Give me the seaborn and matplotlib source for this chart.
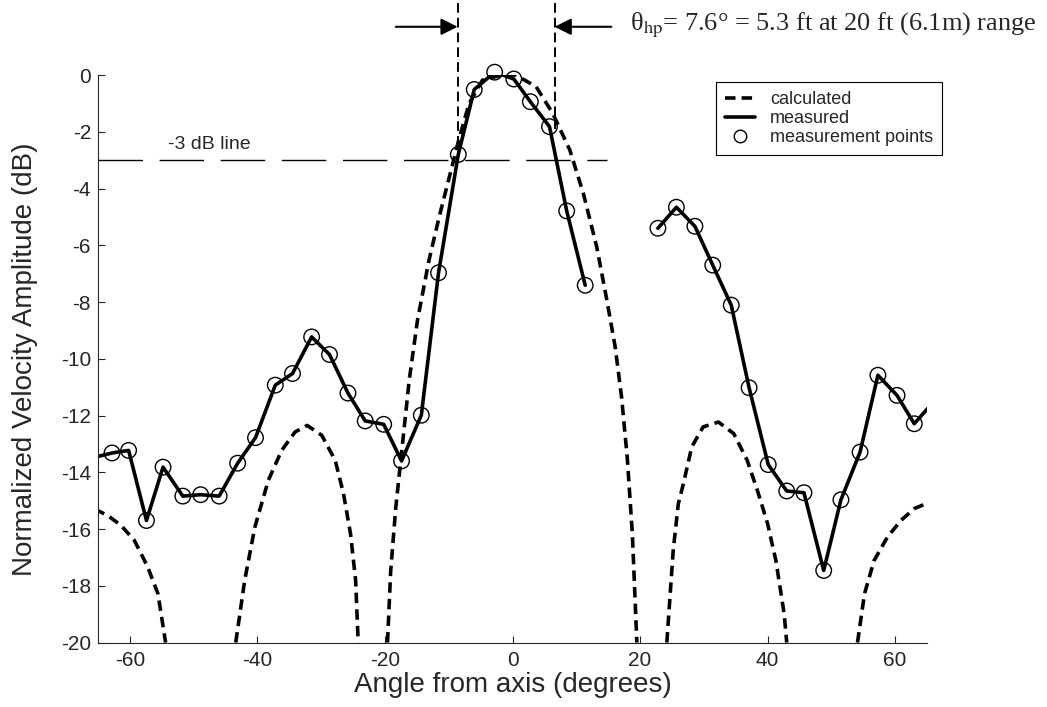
import numpy as np
import pandas as pd
import seaborn as sns
import matplotlib.pyplot as plt
from matplotlib.lines import Line2D

sns.set_style('ticks')
plt.rcParams['font.family'] = ['Liberation Sans', 'DejaVu Sans']
plt.rcParams['mathtext.fontset'] = 'stix'
plt.rcParams['axes.unicode_minus'] = False

# calculated pattern (one list per lobe)
calc_lobes = [
    ([-65.5, -63.5, -61.4, -59.3, -57.2, -55.6, -54.4],
     [-15.30, -15.52, -15.87, -16.40, -17.34, -18.28, -20.0]),
    ([-43.4, -42.0, -40.4, -38.3, -36.2, -34.1, -32.2, -29.9, -27.8, -26.5, -25.4, -24.6, -24.2],
     [-20.0, -17.81, -15.93, -14.29, -13.23, -12.58, -12.35, -12.70, -13.58, -14.76, -16.17, -17.81, -20.0]),
    ([-19.6, -19.1, -18.3, -17.3, -16.2, -14.9, -13.1, -11.5, -9.9, -8.3, -6.8, -4.7, -2.0,
      0.5, 3.7, 6.3, 9.0, 11.1, 13.2, 14.8, 16.1, 17.1, 18.0, 18.8, 19.5],
     [-20.0, -17.46, -15.23, -13.11, -10.76, -8.64, -6.53, -5.00, -3.59, -2.18, -1.00, -0.18, -0.02,
      0.0, -0.41, -1.35, -2.65, -4.17, -6.05, -7.94, -9.58, -11.35, -13.5, -16.2, -20.0]),
    ([24.2, 25.2, 26.0, 26.8, 28.1, 29.9, 32.3, 34.7, 36.8, 38.4, 40.0, 41.3, 42.6, 43.0],
     [-20.0, -16.75, -15.11, -14.40, -13.11, -12.40, -12.23, -12.64, -13.58, -14.64, -15.81, -17.11, -18.99, -20.0]),
    ([54.1, 55.2, 56.7, 58.8, 60.9, 63.0, 65.5],
     [-20.0, -18.28, -17.11, -16.28, -15.70, -15.28, -15.05]),
]

# measurement points
meas_x = [-62.8, -60.2, -57.4, -54.8, -51.7, -48.9, -46.0, -43.1, -40.3, -37.2, -34.5, -31.5,
          -28.7, -25.8, -23.1, -20.2, -17.4, -14.3, -11.6, -8.5, -6.0, -2.8, 0.2, 2.8, 5.8,
          8.5, 11.4, 22.8, 25.7, 28.6, 31.4, 34.3, 37.1, 40.1, 43.0, 45.7, 48.8, 51.5, 54.5,
          57.3, 60.3, 63.0]
meas_y = [-13.32, -13.23, -15.70, -13.82, -14.84, -14.79, -14.84, -13.68, -12.78, -10.93, -10.52,
          -9.23, -9.85, -11.21, -12.19, -12.31, -13.60, -11.99, -6.97, -2.80, -0.51, 0.10, -0.14,
          -0.94, -1.82, -4.79, -7.41, -5.40, -4.66, -5.33, -6.70, -8.11, -11.02, -13.73, -14.66,
          -14.72, -17.46, -14.97, -13.29, -10.58, -11.29, -12.29]
# the measured line runs off both edges of the axes
meas_left_end = (-65.5, -13.47)
meas_right_end = (65.5, -11.65)
gap_after = 11.4  # no line between 11.4 and 22.8 deg

xticks = [-60, -40, -20, 0, 20, 40, 60]
yticks = [0, -2, -4, -6, -8, -10, -12, -14, -16, -18, -20]

# build frames
rows = []
for i, (xs, ys) in enumerate(calc_lobes):
    for a, b in zip(xs, ys):
        rows.append((a, b, i))
calc_df = pd.DataFrame(rows, columns=['angle', 'amp', 'seg'])

mx = [meas_left_end[0]] + meas_x + [meas_right_end[0]]
my = [meas_left_end[1]] + meas_y + [meas_right_end[1]]
meas_line = pd.DataFrame({'angle': mx, 'amp': my})
meas_line['seg'] = (meas_line['angle'] > gap_after).astype(int)
pts = pd.DataFrame({'angle': meas_x, 'amp': meas_y})

fig = plt.figure(figsize=(10.47, 7.07), dpi=100)
ax = fig.add_axes([0.0936, 0.0912, 0.7918, 0.8027])

sns.lineplot(data=calc_df, x='angle', y='amp', units='seg', estimator=None, sort=False,
             color='k', lw=2.6, linestyle=(0, (2.9, 1.7)), ax=ax)
sns.lineplot(data=meas_line, x='angle', y='amp', units='seg', estimator=None, sort=False,
             color='k', lw=2.6, ax=ax)
sns.scatterplot(data=pts, x='angle', y='amp', marker='o', s=125, facecolor='none',
                edgecolor='k', linewidth=1.0, ax=ax, clip_on=False, zorder=3)

# -3 dB line
ax.plot([-65, 14.8], [-3, -3], color='k', lw=1.0, ls=(0, (32, 12)))
ax.text(-54, -2.45, '-3 dB line', fontsize=14, va='center')

# beamwidth markers
for xv, ylo in [(-8.6, -2.8), (6.6, -1.9)]:
    ax.plot([xv, xv], [2.55, ylo], color='k', lw=1.4, ls=(0, (5, 2.6)), clip_on=False)
ax.annotate('', xy=(-8.6, 1.7), xytext=(-18.3, 1.7), annotation_clip=False,
            arrowprops=dict(arrowstyle='-|>', color='k', lw=1.5, mutation_scale=25,
                            shrinkA=0, shrinkB=0))
ax.annotate('', xy=(6.6, 1.7), xytext=(15.5, 1.7), annotation_clip=False,
            arrowprops=dict(arrowstyle='-|>', color='k', lw=1.5, mutation_scale=25,
                            shrinkA=0, shrinkB=0))
ax.text(18.5, 1.75, 'θ$_{\\rm hp}$= 7.6° = 5.3 ft at 20 ft (6.1m) range',
        family='Liberation Serif', fontsize=19, va='center', clip_on=False)

ax.set_xlim(-65, 65)
ax.set_ylim(-20, 0)
ax.set_xticks(xticks)
ax.set_yticks(yticks)
ax.tick_params(direction='in', length=5, width=0.8, labelsize=15)
ax.tick_params(axis='x', pad=6)
ax.tick_params(axis='y', pad=5)
ax.set_xlabel('Angle from axis (degrees)', fontsize=20)
ax.set_ylabel('Normalized Velocity Amplitude (dB)', fontsize=20)
ax.xaxis.set_label_coords(0.5, -0.052)
ax.yaxis.set_label_coords(-0.072, 0.5)
sns.despine(ax=ax)

handles = [Line2D([], [], color='k', lw=2.6, ls=(0, (2.9, 1.7))),
           Line2D([], [], color='k', lw=2.6),
           Line2D([], [], ls='none', marker='o', mfc='none', mec='k', ms=9)]
leg = ax.legend(handles, ['calculated', 'measured', 'measurement points'],
                loc='upper left', bbox_to_anchor=(0.745, 0.988), borderaxespad=0,
                fontsize=13, frameon=True, fancybox=False, edgecolor='k', framealpha=1,
                handlelength=1.7, handletextpad=0.8, borderpad=0.5, labelspacing=0.12)
leg.get_frame().set_linewidth(0.8)

fig.savefig('out.png', dpi=100)
